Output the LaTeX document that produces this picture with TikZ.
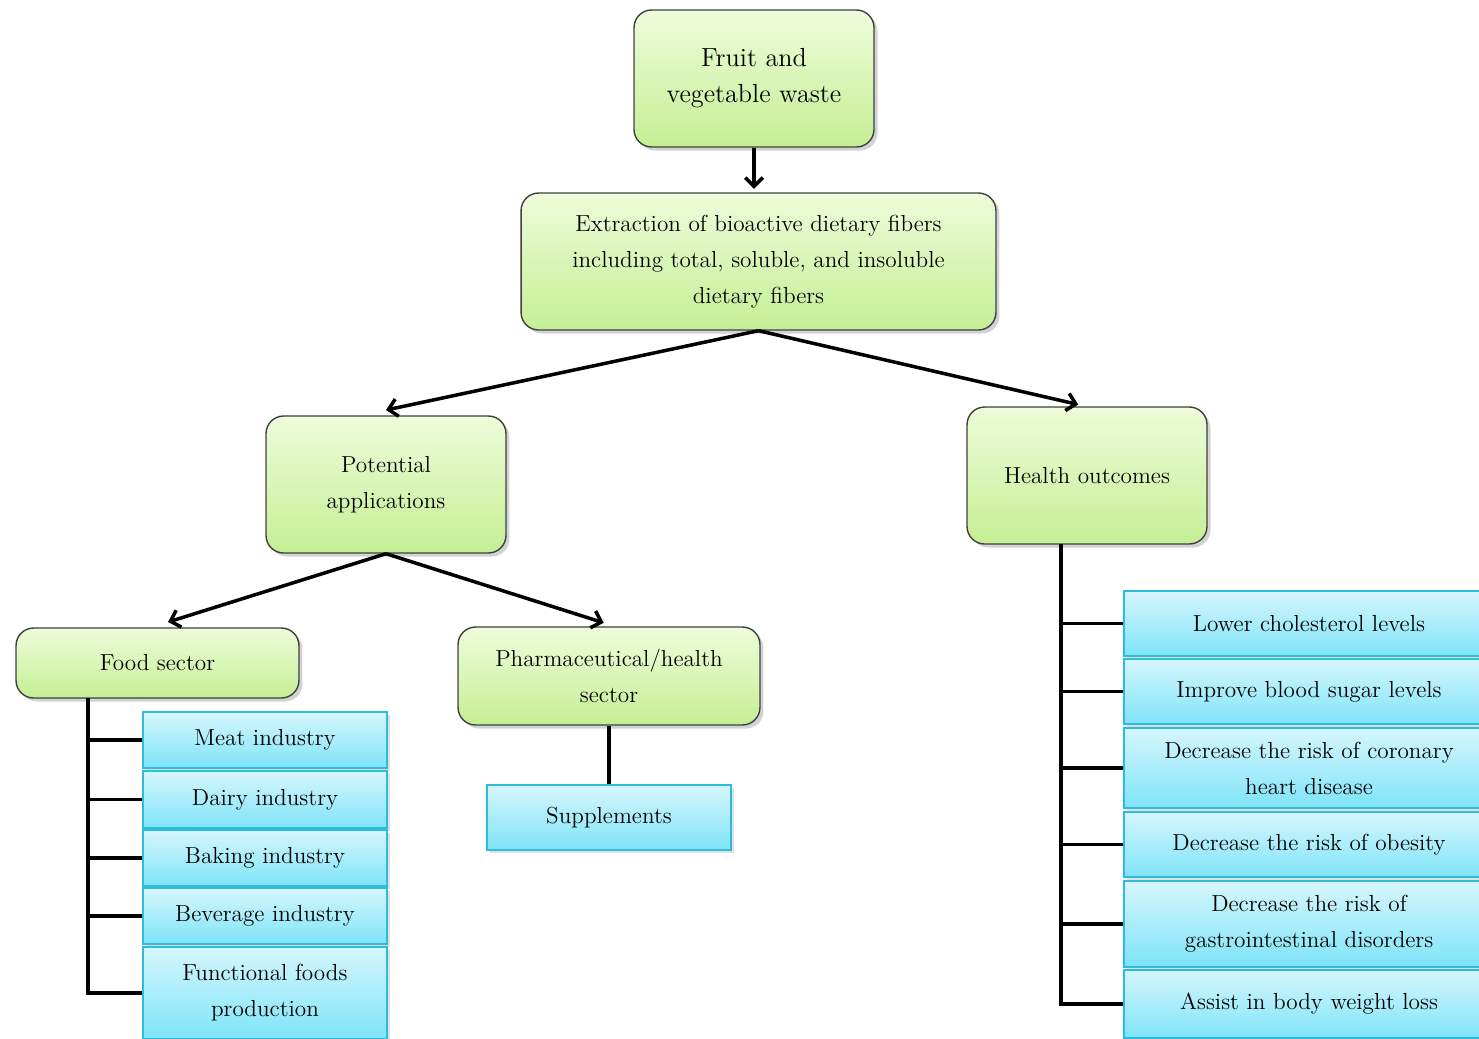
\documentclass[tikz,border=0pt]{standalone}
\usepackage{tikz}
\usetikzlibrary{positioning}
\usetikzlibrary{calc}
\usetikzlibrary{shadows}
\usetikzlibrary{arrows.meta}

\definecolor{greentop}{RGB}{238,252,218}
\definecolor{greenbot}{RGB}{196,239,148}
\definecolor{bluetop}{RGB}{214,246,253}
\definecolor{bluebot}{RGB}{126,228,248}
\definecolor{blueline}{RGB}{46,188,220}

\tikzset{
  greenbox/.style={draw=black!75, line width=0.8pt, rounded corners=10pt,
    top color=greentop, bottom color=greenbot, align=center,
    drop shadow={shadow xshift=2pt, shadow yshift=-2pt, opacity=0.35}},
  bluebox/.style={draw=blueline, line width=0.8pt,
    top color=bluetop, bottom color=bluebot, align=center,
    drop shadow={shadow xshift=1.5pt, shadow yshift=-1.5pt, opacity=0.25}},
  link/.style={line width=2pt, black},
  arr/.style={link, -{Straight Barb[length=5pt,width=10pt]}}
}

\begin{document}
\begin{tikzpicture}[x=0.02cm, y=-0.02cm, font=\fontsize{13.2}{20.5}\selectfont, text=black]
    \useasboundingbox (0,0) rectangle (1479,1038);
    \clip (0,0) rectangle (1479,1038);
    % top of the tree
    \node[greenbox, minimum width=4.8cm, minimum height=2.74cm, font=\fontsize{14.9}{20.5}\selectfont] (fruit) at (754,78.5) {Fruit and\\vegetable waste};
    \node[greenbox, minimum width=9.5cm, minimum height=2.74cm] (extract) at (758.5,261.5) {Extraction of bioactive dietary fibers\\including total, soluble, and insoluble\\dietary fibers};
    \node[greenbox, minimum width=4.8cm, minimum height=2.74cm] (potential) at (386,484.5) {Potential\\applications};
    \node[greenbox, minimum width=4.8cm, minimum height=2.74cm] (health) at (1087,475.5) {Health outcomes};
    \node[greenbox, minimum width=5.66cm, minimum height=1.4cm] (food) at (157.5,663) {Food sector};
    \node[greenbox, minimum width=6.04cm, minimum height=1.96cm] (pharma) at (609,676) {Pharmaceutical/health\\sector};
    \node[bluebox, minimum width=4.88cm, minimum height=1.3cm] (supp) at (609,817.5) {Supplements};
    % food sector items
    \node[bluebox, minimum width=4.88cm, minimum height=1.12cm] (meat) at (265,740) {Meat industry};
    \node[bluebox, minimum width=4.88cm, minimum height=1.14cm] (dairy) at (265,799.5) {Dairy industry};
    \node[bluebox, minimum width=4.88cm, minimum height=1.12cm] (baking) at (265,858) {Baking industry};
    \node[bluebox, minimum width=4.88cm, minimum height=1.12cm] (beverage) at (265,916) {Beverage industry};
    \node[bluebox, minimum width=4.88cm, minimum height=1.84cm] (functional) at (265,993) {Functional foods\\production};
    % health outcome items
    \node[bluebox, minimum width=7.4cm, minimum height=1.3cm] (lower) at (1309,623.5) {Lower cholesterol levels};
    \node[bluebox, minimum width=7.4cm, minimum height=1.3cm] (improve) at (1309,691.5) {Improve blood sugar levels};
    \node[bluebox, minimum width=7.4cm, minimum height=1.6cm] (coronary) at (1309,768) {Decrease the risk of coronary\\heart disease};
    \node[bluebox, minimum width=7.4cm, minimum height=1.3cm] (obesity) at (1309,844.5) {Decrease the risk of obesity};
    \node[bluebox, minimum width=7.4cm, minimum height=1.72cm] (gastro) at (1309,924) {Decrease the risk of\\gastrointestinal disorders};
    \node[bluebox, minimum width=7.4cm, minimum height=1.36cm] (assist) at (1309,1004) {Assist in body weight loss};
    % arrows
    \draw[arr] (fruit.south) -- ([yshift=2pt]fruit.south |- extract.north);
    \draw[arr] (extract.south) -- ([yshift=3pt]potential.north);
    \draw[arr] (extract.south) -- ([xshift=-5pt, yshift=1pt]health.north);
    \draw[arr] (potential.south) -- ([xshift=6pt, yshift=3pt]food.north);
    \draw[arr] (potential.south) -- ([xshift=-3pt, yshift=2pt]pharma.north);
    \draw[link] (pharma) -- (supp);
    % trunks
    \coordinate (ftop) at (88,698);
    \coordinate (htop) at (1061,544);
    \foreach \n in {meat, dairy, baking, beverage, functional}
      \draw[link] (ftop) |- (\n.west);
    \foreach \n in {lower, improve, coronary, obesity, gastro, assist}
      \draw[link] (htop) |- (\n.west);
\end{tikzpicture}
\end{document}
